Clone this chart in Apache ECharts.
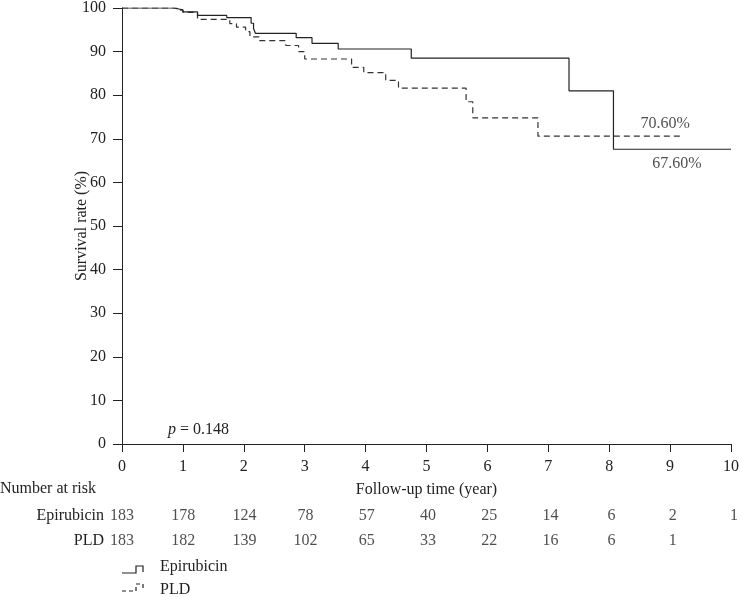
<!DOCTYPE html>
<html>
<head>
<meta charset="utf-8">
<script src="https://cdn.jsdelivr.net/npm/echarts@6/dist/echarts.min.js"></script>
<style>
html,body{margin:0;padding:0;background:#fff;}
#chart{width:742px;height:597px;}
</style>
</head>
<body>
<div id="chart"></div>
<script>
// ---- data ----
var epiTime = [0, 0.85, 1.0, 1.24, 1.72, 2.12, 2.16, 2.19, 2.86, 3.12, 3.55, 4.75, 7.34, 8.07, 10];
var epiSurv = [100, 99.6, 99.1, 98.3, 97.8, 96.5, 95.3, 94.2, 93.2, 91.9, 90.6, 88.5, 81.0, 67.6, 67.6];
var pldTime = [0, 0.9, 1.0, 1.24, 1.77, 1.88, 2.03, 2.1, 2.25, 2.69, 2.9, 3.0, 3.77, 3.97, 4.33, 4.54, 5.65, 5.76, 6.83, 9.2];
var pldSurv = [100, 99.5, 99.0, 97.4, 96.4, 95.6, 94.6, 93.4, 92.5, 91.4, 90.0, 88.3, 86.4, 85.2, 83.4, 81.6, 78.5, 74.8, 70.6, 70.6];
var riskTimes = [0, 1, 2, 3, 4, 5, 6, 7, 8, 9, 10];
var epiRisk = [183, 178, 124, 78, 57, 40, 25, 14, 6, 2, 1];
var pldRisk = [183, 182, 139, 102, 65, 33, 22, 16, 6, 1];
var groups = ['PLD', 'Epirubicin'];
var epiEndLabel = '67.60%';
var pldEndLabel = '70.60%';
var pValue = '0.148';

var FONT = 'Liberation Serif';
var FS = 16;

function pairs(t, v) { return t.map(function (x, i) { return [x, v[i]]; }); }
function riskPts(arr, name) { return arr.map(function (n, i) { return [riskTimes[i], name, n]; }); }

var epiData = pairs(epiTime, epiSurv);
var pldData = pairs(pldTime, pldSurv);
var epiLast = epiData[epiData.length - 1];
var pldLast = pldData[pldData.length - 1];

var chart = echarts.init(document.getElementById('chart'), null, { renderer: 'canvas' });
var axisLineStyle = { color: '#222', width: 1 };

chart.setOption({
  animation: false,
  backgroundColor: '#fff',
  textStyle: { fontFamily: FONT },
  grid: [
    { left: 122, right: 8, top: 8, height: 436 },
    { left: 122, right: 8, top: 503, height: 50 }
  ],
  xAxis: [
    {
      gridIndex: 0, type: 'value', min: 0, max: 10, interval: 1,
      name: 'Follow-up time (year)', nameLocation: 'middle', nameGap: 38,
      nameMoveOverlap: false,
      nameTextStyle: { color: '#222', fontFamily: FONT, fontSize: FS },
      axisLine: { show: true, onZero: false, lineStyle: axisLineStyle },
      axisTick: { show: true, length: 8, lineStyle: axisLineStyle },
      axisLabel: { color: '#222', fontFamily: FONT, fontSize: FS, margin: 15 },
      splitLine: { show: false }
    },
    {
      gridIndex: 1, type: 'value', min: 0, max: 10, interval: 1, show: false
    }
  ],
  yAxis: [
    {
      gridIndex: 0, type: 'value', min: 0, max: 100, interval: 10,
      name: 'Survival rate (%)', nameLocation: 'middle', nameGap: 32,
      nameMoveOverlap: false,
      nameTextStyle: { color: '#222', fontFamily: FONT, fontSize: FS },
      axisLine: { show: true, lineStyle: axisLineStyle },
      axisTick: { show: true, length: 9, lineStyle: axisLineStyle },
      axisLabel: { color: '#222', fontFamily: FONT, fontSize: FS, margin: 16 },
      splitLine: { show: false }
    },
    {
      gridIndex: 1, type: 'category', data: groups,
      axisLine: { show: false }, axisTick: { show: false }, splitLine: { show: false },
      axisLabel: { color: '#222', fontFamily: FONT, fontSize: FS, margin: 18 }
    }
  ],
  series: [
    {
      name: 'Epirubicin', type: 'line', step: 'end', xAxisIndex: 0, yAxisIndex: 0,
      data: epiData, symbol: 'none', showSymbol: false,
      lineStyle: { color: '#222', width: 1.2 }, z: 3
    },
    {
      name: 'PLD', type: 'line', step: 'end', xAxisIndex: 0, yAxisIndex: 0,
      data: pldData, symbol: 'none', showSymbol: false,
      lineStyle: { color: '#333', width: 1.2, type: [6, 4] }, z: 2
    },
    {
      type: 'scatter', xAxisIndex: 0, yAxisIndex: 0, symbolSize: 1, silent: true,
      itemStyle: { color: 'rgba(0,0,0,0)' },
      data: [
        { value: epiLast, label: { show: true, position: 'bottom', distance: 6, offset: [-54, 0], formatter: epiEndLabel } },
        { value: pldLast, label: { show: true, position: 'top', distance: 4, offset: [-17, 0], formatter: pldEndLabel } }
      ],
      label: { color: '#222', fontFamily: FONT, fontSize: FS }
    },
    {
      type: 'scatter', xAxisIndex: 1, yAxisIndex: 1, symbolSize: 0,
      data: riskPts(epiRisk, 'Epirubicin').concat(riskPts(pldRisk, 'PLD')),
      label: {
        show: true, position: 'inside', color: '#222', fontFamily: FONT, fontSize: FS,
        formatter: function (p) { return String(p.value[2]); }
      },
      silent: true
    }
  ],
  graphic: [
    { type: 'text', left: 0, top: 481, style: { text: 'Number at risk', fill: '#222', font: FS + 'px "' + FONT + '"' } },
    { type: 'text', left: 168, top: 422, style: {
        text: '{i|p} = ' + pValue,
        rich: { i: { fontStyle: 'italic', fontFamily: FONT, fontSize: FS, fill: '#222' } },
        fill: '#222', font: FS + 'px "' + FONT + '"' } },
    { type: 'polyline', shape: { points: [[122, 573], [136, 573], [136, 566], [143, 566], [143, 572]] },
      style: { stroke: '#222', lineWidth: 1.2, fill: null } },
    { type: 'text', left: 160, top: 559, style: { text: 'Epirubicin', fill: '#222', font: FS + 'px "' + FONT + '"' } },
    { type: 'polyline', shape: { points: [[122, 591], [136, 591], [136, 584], [143, 584], [143, 590]] },
      style: { stroke: '#222', lineWidth: 1.2, fill: null, lineDash: [4, 3] } },
    { type: 'text', left: 160, top: 582, style: { text: 'PLD', fill: '#222', font: FS + 'px "' + FONT + '"' } }
  ]
});
</script>
</body>
</html>
